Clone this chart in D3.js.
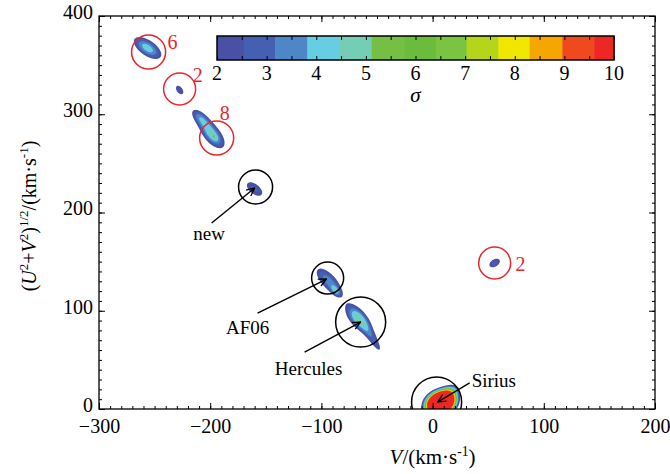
<!DOCTYPE html>
<html>
<head>
<meta charset="utf-8">
<script src="https://cdn.jsdelivr.net/npm/d3@7"></script>
<style>
  body { margin: 0; background: #fff; }
  text { font-family: "Liberation Serif", "DejaVu Serif", serif; }
</style>
</head>
<body>
<script>
// sigma levels of the colour bar and their colours
var levels = [2, 2.54, 3.17, 3.82, 4.47, 5.12, 5.77, 6.41, 7.03, 7.67, 8.30, 8.96, 9.60];
var levelColors = ["#4a50a6", "#4560b2", "#4f86c8", "#66cde3", "#74cdb4", "#74bf44",
                   "#6bbb3c", "#7ac442", "#b5d51b", "#f0e600", "#f5a700", "#ef4a1f", "#ec2724"];
var cbTicks = [2, 3, 4, 5, 6, 7, 8, 9, 10];

// peaks of the significance map (V, (U^2+V^2)^1/2 in km/s), spreads and tilt
var blobV     = [-256.3, -227.5, -198.0, -209.5, -196.4, -160.1, -93.5, -87.0, -67.4, -53.1, 7.2, 15.3, 55.8];
var blobU     = [ 367.4,  324.7,  279.0,  297.2,  276.8,  223.9, 130.3, 120.0,  92.6,  70.2, 6.1, 17.3, 148.6];
var blobMajor = [  12.0,    7.0,   12.5,    9.0,    2.5,   11.0,  14.0,   4.0,  12.0,  16.0, 7.5,  6.5,  7.0];
var blobMinor = [   6.0,    4.0,    6.0,    4.5,    1.5,    6.0,   6.0,   2.5,   6.0,   4.0, 6.0,  4.5,  4.5];
var blobAngle = [   -40,    -60,    -55,    -50,    -55,    -45,   -52,   -55,   -55,   -62,  35,   35,   40];
var blobPeak  = [   4.3,    2.5,    4.4,    2.8,    0.9,    2.7,   3.6,   2.1,   4.4,   2.5,  40,    4,  2.7];

// red rings with their numbers
var redV     = [-255.4, -227.5, -194.2, 55.8];
var redU     = [ 363.4,  325.7,  275.8, 148.6];
var redR     = [  15.3,   14.4,   15.3, 14.4];
var redText  = ["6", "2", "8", "2"];
var redTextV = [-233.8, -211.3, -187.0, 79.1];
var redTextU = [ 373.5,  340.0,  301.3, 147.6];

// named groups: black ring, arrow and label
var grpName  = ["new", "AF06", "Hercules", "Sirius"];
var grpV     = [-159.2, -94.4, -64.7, 3.6];
var grpU     = [ 226.0, 133.3,  88.5, 7.1];
var grpR     = [  15.3,  14.4,  22.5, 22.5];
var tailV    = [-198.7, -157.4, -115.1, 33.3];
var tailU    = [ 189.3,   97.7,   58.0, 26.5];
var headV    = [-160.0,  -95.3,  -64.7, 4.5];
var headU    = [ 225.0,  132.3,   88.5, 7.1];
var labelV   = [-201.0, -166.4, -111.5, 35.1];
var labelU   = [ 179.0,   83.5,   41.7, 29.5];

var xTicks = d3.range(-300, 201, 100), xMinor = d3.range(-300, 201, 10);
var yTicks = d3.range(0, 401, 100),   yMinor = d3.range(0, 401, 10);

var W = 670, H = 474;
var margin = {top: 16, right: 15, bottom: 65, left: 99};

var x = d3.scaleLinear().domain([-300, 200]).range([margin.left, W - margin.right]);
var y = d3.scaleLinear().domain([0, 400]).range([H - margin.bottom, margin.top]);

var svg = d3.select("body").append("svg")
    .attr("width", W).attr("height", H);

svg.append("defs").append("clipPath").attr("id", "plot")
  .append("rect")
    .attr("x", x(-300)).attr("y", y(400))
    .attr("width", x(200) - x(-300)).attr("height", y(0) - y(400));

var marker = svg.select("defs").append("marker")
    .attr("id", "arr").attr("viewBox", "0 0 10 10")
    .attr("refX", 9.5).attr("refY", 5)
    .attr("markerWidth", 9).attr("markerHeight", 9)
    .attr("markerUnits", "userSpaceOnUse")
    .attr("orient", "auto");
marker.append("path").attr("d", "M0.5,0.8 L9.5,5 L0.5,9.2")
    .attr("fill", "none").attr("stroke", "#000").attr("stroke-width", 1.4);

// significance field on a grid, then filled contours
var step = 0.5;
var nx = 500 / step + 1, ny = 400 / step + 1;
var grid = new Float64Array(nx * ny);
blobV.forEach(function(v0, k) {
  var a = blobAngle[k] * Math.PI / 180, ca = Math.cos(a), sn = Math.sin(a);
  var R = 5 * blobMajor[k], u0 = blobU[k];
  var i0 = Math.max(0, Math.floor((v0 - R + 300) / step)), i1 = Math.min(nx - 1, Math.ceil((v0 + R + 300) / step));
  var j0 = Math.max(0, Math.floor((u0 - R) / step)), j1 = Math.min(ny - 1, Math.ceil((u0 + R) / step));
  for (var j = j0; j <= j1; j++) {
    for (var i = i0; i <= i1; i++) {
      var dv = -300 + i * step - v0, du = j * step - u0;
      var p = dv * ca + du * sn, q = -dv * sn + du * ca;
      grid[j * nx + i] += blobPeak[k] * Math.exp(-0.5 * (p * p / (blobMajor[k] * blobMajor[k]) + q * q / (blobMinor[k] * blobMinor[k])));
    }
  }
});

var contours = d3.contours().size([nx, ny]).thresholds(levels)(grid);
var proj = d3.geoTransform({
  point: function(px, py) { this.stream.point(x(-300 + (px - 0.5) * step), y((py - 0.5) * step)); }
});

svg.append("g").attr("clip-path", "url(#plot)")
  .selectAll("path")
  .data(contours)
  .enter().append("path")
    .attr("d", d3.geoPath(proj))
    .attr("fill", function(d, i) { return levelColors[i]; });

// rings
var rings = svg.append("g").attr("clip-path", "url(#plot)");
rings.selectAll(".red").data(redV).enter().append("circle")
    .attr("cx", function(d) { return x(d); })
    .attr("cy", function(d, i) { return y(redU[i]); })
    .attr("r", function(d, i) { return x(redR[i]) - x(0); })
    .attr("fill", "none").attr("stroke", "#e8262b").attr("stroke-width", 1.5);
rings.selectAll(".blk").data(grpV).enter().append("circle")
    .attr("cx", function(d) { return x(d); })
    .attr("cy", function(d, i) { return y(grpU[i]); })
    .attr("r", function(d, i) { return x(grpR[i]) - x(0); })
    .attr("fill", "none").attr("stroke", "#000").attr("stroke-width", 1.5);

svg.selectAll(".rednum").data(redText).enter().append("text")
    .attr("x", function(d, i) { return x(redTextV[i]); })
    .attr("y", function(d, i) { return y(redTextU[i]); })
    .attr("dy", "0.35em").attr("text-anchor", "middle")
    .attr("font-size", 20).attr("fill", "#e8262b")
    .text(function(d) { return d; });

// arrows and labels
svg.selectAll(".arrow").data(grpName).enter().append("line")
    .attr("x1", function(d, i) { return x(tailV[i]); })
    .attr("y1", function(d, i) { return y(tailU[i]); })
    .attr("x2", function(d, i) { return x(headV[i]); })
    .attr("y2", function(d, i) { return y(headU[i]); })
    .attr("stroke", "#000").attr("stroke-width", 1.4)
    .attr("marker-end", "url(#arr)");

svg.selectAll(".lbl").data(grpName).enter().append("text")
    .attr("x", function(d, i) { return x(labelV[i]); })
    .attr("y", function(d, i) { return y(labelU[i]); })
    .attr("dy", "0.35em")
    .attr("text-anchor", function(d) { return d === "Sirius" ? "start" : "middle"; })
    .attr("font-size", 19)
    .text(function(d) { return d; });

// axes, ticks pointing inwards on all four sides
function styleAxis(g) {
  g.select(".domain").remove();
  g.attr("font-family", "Liberation Serif, serif").attr("font-size", 20);
  g.selectAll("line").attr("stroke", "#000");
}
var fmt = d3.format("d");
svg.append("g").attr("transform", "translate(0," + y(0) + ")")
    .call(d3.axisBottom(x).tickValues(xMinor).tickSize(-3).tickFormat("")).call(styleAxis);
svg.append("g").attr("transform", "translate(0," + y(0) + ")")
    .call(d3.axisBottom(x).tickValues(xTicks).tickSizeInner(-6).tickSizeOuter(0).tickPadding(10).tickFormat(fmt))
    .call(styleAxis);
svg.append("g").attr("transform", "translate(0," + y(400) + ")")
    .call(d3.axisTop(x).tickValues(xMinor).tickSize(-3).tickFormat("")).call(styleAxis);
svg.append("g").attr("transform", "translate(0," + y(400) + ")")
    .call(d3.axisTop(x).tickValues(xTicks).tickSize(-6).tickFormat("")).call(styleAxis);
svg.append("g").attr("transform", "translate(" + x(-300) + ",0)")
    .call(d3.axisLeft(y).tickValues(yMinor).tickSize(-3).tickFormat("")).call(styleAxis);
svg.append("g").attr("transform", "translate(" + x(-300) + ",0)")
    .call(d3.axisLeft(y).tickValues(yTicks).tickSizeInner(-6).tickSizeOuter(0).tickPadding(6).tickFormat(fmt))
    .call(styleAxis)
    .call(function(g) { g.selectAll("text").attr("dy", "0.12em"); });
svg.append("g").attr("transform", "translate(" + x(200) + ",0)")
    .call(d3.axisRight(y).tickValues(yMinor).tickSize(-3).tickFormat("")).call(styleAxis);
svg.append("g").attr("transform", "translate(" + x(200) + ",0)")
    .call(d3.axisRight(y).tickValues(yTicks).tickSize(-6).tickFormat("")).call(styleAxis);

svg.append("rect")
    .attr("x", x(-300)).attr("y", y(400))
    .attr("width", x(200) - x(-300)).attr("height", y(0) - y(400))
    .attr("fill", "none").attr("stroke", "#000").attr("stroke-width", 1.3);

// axis titles with italic letters and superscripts
function richText(sel, parts, size) {
  parts.forEach(function(p) {
    var t = sel.append("tspan").text(p.t);
    if (p.it) t.attr("font-style", "italic");
    if (p.sup) t.attr("font-size", size * 0.65).attr("dy", -size * 0.4);
    if (p.down) t.attr("dy", size * 0.4);
  });
}
var xt = svg.append("text")
    .attr("x", x(0)).attr("y", 464)
    .attr("text-anchor", "middle").attr("font-size", 21);
richText(xt, [{t: "V", it: true}, {t: "/(km·s"}, {t: "-1", sup: true}, {t: ")", down: true}], 21);

var yt = svg.append("text")
    .attr("transform", "translate(36,216) rotate(-90)")
    .attr("text-anchor", "middle").attr("font-size", 20);
richText(yt, [{t: "("}, {t: "U", it: true}, {t: "2", sup: true}, {t: "+", down: true},
              {t: "V", it: true}, {t: "2", sup: true}, {t: ")", down: true},
              {t: "1/2", sup: true}, {t: "/(km·s", down: true}, {t: "-1", sup: true},
              {t: ")", down: true}], 20);

// colour bar
var cb = d3.scaleLinear().domain([2, 10]).range([217, 614]);
var cbTop = 36, cbH = 24;
var cbg = svg.append("g");
cbg.selectAll("rect").data(levels).enter().append("rect")
    .attr("x", function(d) { return cb(d); })
    .attr("y", cbTop)
    .attr("width", function(d, i) { return cb(i + 1 < levels.length ? levels[i + 1] : 10) - cb(d) + 0.5; })
    .attr("height", cbH)
    .attr("fill", function(d, i) { return levelColors[i]; });
cbg.append("g").attr("transform", "translate(0," + (cbTop + cbH) + ")")
    .call(d3.axisBottom(cb).tickValues(d3.range(2, 10.01, 0.5)).tickSize(-4).tickFormat(""))
    .call(styleAxis);
cbg.append("g").attr("transform", "translate(0," + cbTop + ")")
    .call(d3.axisTop(cb).tickValues(d3.range(2, 10.01, 0.5)).tickSize(-4).tickFormat(""))
    .call(styleAxis);
cbg.selectAll(".cbl").data(cbTicks).enter().append("text")
    .attr("x", function(d) { return cb(d); })
    .attr("y", 73).attr("dy", "0.35em")
    .attr("text-anchor", "middle").attr("font-size", 20)
    .text(function(d) { return d; });
cbg.append("rect")
    .attr("x", cb(2)).attr("y", cbTop).attr("width", cb(10) - cb(2)).attr("height", cbH)
    .attr("fill", "none").attr("stroke", "#000").attr("stroke-width", 1.5);
cbg.append("text")
    .attr("x", cb(6)).attr("y", 95).attr("dy", "0.35em")
    .attr("text-anchor", "middle").attr("font-size", 21).attr("font-style", "italic")
    .text("σ");
</script>
</body>
</html>
